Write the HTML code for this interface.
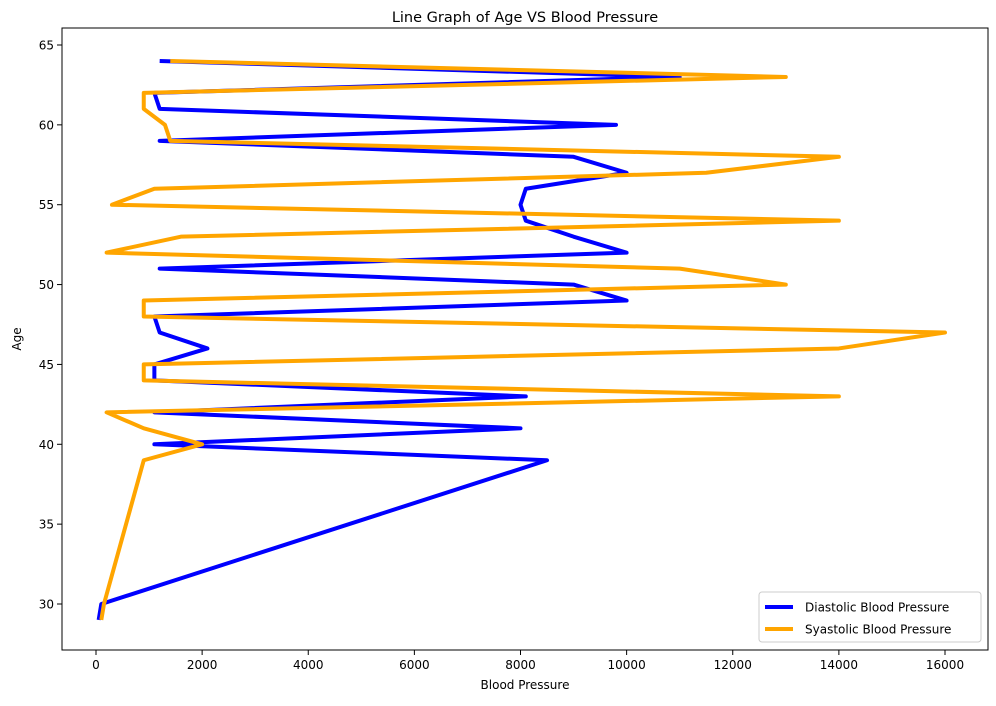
<!DOCTYPE html>
<html><head><meta charset="utf-8"><style>
body{margin:0;background:#fff;font-family:"Liberation Sans","DejaVu Sans",sans-serif;}
svg text{font-family:"DejaVu Sans","Liberation Sans",sans-serif;}
</style></head><body>
<svg id="chart" width="996" height="701" xmlns="http://www.w3.org/2000/svg"></svg>
<script>
const ages = [29,30,39,40,41,42,43,44,45,46,47,48,49,50,51,52,53,54,55,56,57,58,59,60,61,62,63,64];
const diastolic = [50,100,8500,1100,8000,1100,8100,1100,1100,2100,1200,1100,10000,9000,1200,10000,9000,8100,8000,8100,10000,9000,1200,9800,1200,1100,11000,1200];
const systolic = [100,150,900,2000,900,200,14000,900,900,14000,16000,900,900,13000,11000,200,1600,14000,300,1100,11500,14000,1400,1300,900,900,13000,1400];
const xTicks = [0,2000,4000,6000,8000,10000,12000,14000,16000];
const yTicks = [30,35,40,45,50,55,60,65];

const NS="http://www.w3.org/2000/svg";
const svg=document.getElementById('chart');
const L=62,R=988,T=28,B=650;
const xS=v=>96+v*(945-96)/16000;
const yS=v=>604-(v-30)*(604-45)/35;
function mk(tag,attrs,parent){const e=document.createElementNS(NS,tag);for(const k in attrs)e.setAttribute(k,attrs[k]);(parent||svg).appendChild(e);return e;}

const title=mk('text',{x:(L+R)/2,y:22,'text-anchor':'middle','font-size':14.5,fill:'#000'});


title.textContent='Line Graph of Age VS Blood Pressure';

const axes=mk('g',{});


xTicks.forEach(t=>{
  const x=xS(t);
  mk('line',{x1:x,x2:x,y1:B,y2:B+5,stroke:'#000','stroke-width':1},axes);
  const tx=mk('text',{x:x,y:B+19,'text-anchor':'middle','font-size':12,fill:'#000'},axes);
  
  
  tx.textContent=t;
});
yTicks.forEach(t=>{
  const y=yS(t);
  mk('line',{x1:L-5,x2:L,y1:y,y2:y,stroke:'#000','stroke-width':1},axes);
  const tx=mk('text',{x:L-8,y:y+4.5,'text-anchor':'end','font-size':12,fill:'#000'},axes);
  
  
  tx.textContent=t;
});
const xl=mk('text',{x:(L+R)/2,y:689,'text-anchor':'middle','font-size':12,fill:'#000'});


xl.textContent='Blood Pressure';
const yl=mk('text',{x:21,y:(T+B)/2,'text-anchor':'middle','font-size':12,fill:'#000',transform:`rotate(-90 21 ${(T+B)/2})`});


yl.textContent='Age';

function series(vals,color,name){
  const pts=ages.map((a,i)=>xS(vals[i])+','+yS(a)).join(' ');
  const p=mk('polyline',{points:pts,fill:'none',stroke:color,'stroke-width':4,'stroke-linejoin':'round','stroke-linecap':'butt'});
  
  
}
series(diastolic,'#0000ff','diastolic-line');
series(systolic,'#ffa500','systolic-line');

const frame=mk('rect',{x:L,y:T,width:R-L,height:B-T,fill:'none',stroke:'#000','stroke-width':1});



const lg=mk('g',{});


mk('rect',{x:759,y:592,width:222,height:50,rx:3,fill:'#fff',stroke:'#ccc','stroke-width':1},lg);
[['Diastolic Blood Pressure','#0000ff',607],['Syastolic Blood Pressure','#ffa500',629]].forEach(([lab,c,y])=>{
  const e=mk('g',{},lg);
  
  
  mk('line',{x1:765,x2:793,y1:y,y2:y,stroke:c,'stroke-width':4},e);
  const t=mk('text',{x:805,y:y+4.5,'font-size':12,fill:'#000'},e);
  t.textContent=lab;
});
</script>
</body></html>
